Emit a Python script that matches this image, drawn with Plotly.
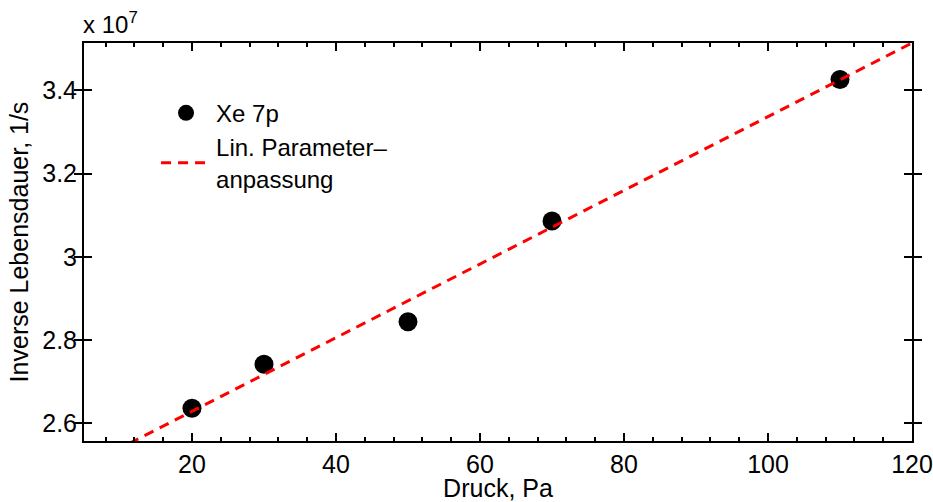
import plotly.graph_objects as go

# Data (inverse lifetime in units of 1e7 1/s)
pressure = [20, 30, 50, 70, 110]
inv_lifetime = [2.636, 2.742, 2.844, 3.086, 3.426]
fit_x = [5, 120]
fit_y = [2.496, 3.5135]

x_ticks = [20, 40, 60, 80, 100, 120]
y_ticks = [2.6, 2.8, 3.0, 3.2, 3.4]
y_tick_labels = ["2.6", "2.8", "3", "3.2", "3.4"]

FONT = "Liberation Sans, Arial, Helvetica, sans-serif"

fig = go.Figure()
fig.add_trace(go.Scatter(
    x=pressure, y=inv_lifetime, mode="markers", name="Xe 7p",
    marker=dict(color="black", size=19, line=dict(width=0)),
))
fig.add_trace(go.Scatter(
    x=fit_x, y=fit_y, mode="lines", name="Lin. Parameter–<br>anpassung",
    line=dict(color="red", width=3, dash="10px,7px"),
))
# invisible trace to carry the top (mirrored) x axis with minor ticks
fig.add_trace(go.Scatter(
    x=pressure, y=inv_lifetime, xaxis="x2", mode="markers",
    marker=dict(opacity=0), showlegend=False, hoverinfo="skip",
))

axis_common = dict(
    showline=True, linecolor="black", linewidth=2,
    ticks="inside", ticklen=8, tickwidth=2,
    tickcolor="black", showgrid=False, zeroline=False, automargin=False,
    tickfont=dict(family=FONT, size=25, color="black"),
)
minor_x = dict(ticks="inside", ticklen=4, tickwidth=2, tickcolor="black",
               dtick=4, tick0=0, showgrid=False)

fig.update_layout(
    xaxis=dict(
        range=[5, 120], tickvals=x_ticks, minor=minor_x,
        title=dict(text="Druck, Pa", font=dict(family=FONT, size=25, color="black"), standoff=4),
        **axis_common,
    ),
    xaxis2=dict(
        range=[5, 120], tickvals=x_ticks, minor=minor_x, overlaying="x",
        side="top", matches="x", showticklabels=False, **axis_common,
    ),
    yaxis=dict(
        range=[2.5575, 3.5135], tickvals=y_ticks, ticktext=y_tick_labels,
        mirror="allticks",
        title=dict(text="Inverse Lebensdauer, 1/s", font=dict(family=FONT, size=25, color="black"), standoff=6),
        **axis_common,
    ),
)

fig.add_annotation(
    xref="paper", yref="paper", x=0, y=1, xanchor="left", yanchor="bottom",
    xshift=-3, yshift=3, text="x 10<sup>7</sup>", showarrow=False,
    font=dict(family=FONT, size=24, color="black"),
)

fig.update_layout(
    width=933, height=502,
    margin=dict(l=84, r=21, t=43, b=61),
    paper_bgcolor="white", plot_bgcolor="white",
    font=dict(family=FONT, size=24, color="black"),
    showlegend=True,
    legend=dict(
        x=0.087, y=0.88, xanchor="left", yanchor="top",
        bgcolor="rgba(0,0,0,0)", borderwidth=0,
        font=dict(family=FONT, size=24, color="black"),
        itemwidth=50, tracegroupgap=0,
    ),
)

fig.write_html("out.html", config={"displayModeBar": False},
               post_script="document.body.style.margin='0';")
